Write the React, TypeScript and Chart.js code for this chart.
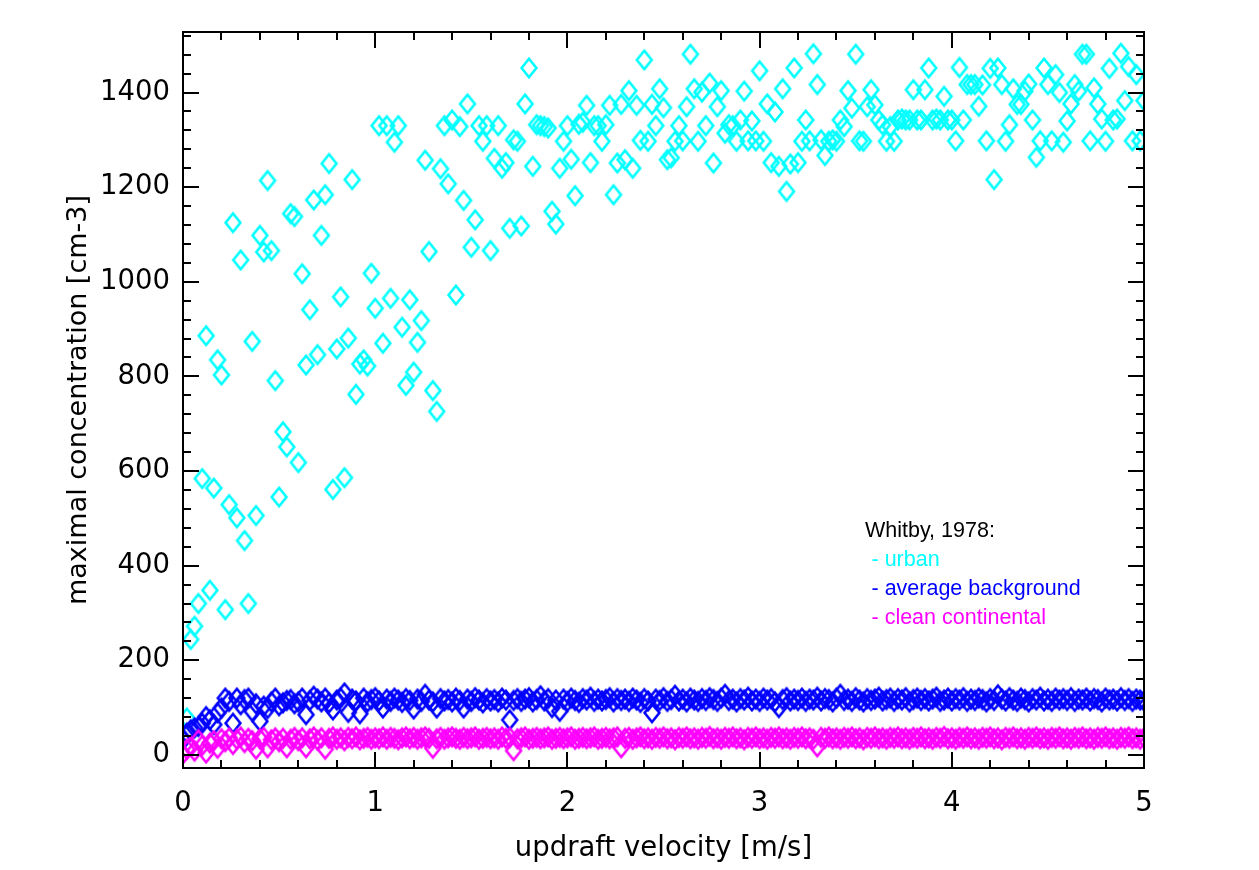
import React, { useEffect, useRef } from 'react';
import { Chart, registerables } from 'chart.js';

Chart.register(...registerables);

// ---- axis ranges & ticks ----
const X_MIN = 0;
const X_MAX = 5;
const Y_MIN = -27.7;
const Y_MAX = 1528;
const X_MAJOR_TICKS = [0, 1, 2, 3, 4, 5];
const Y_MAJOR_TICKS = [0, 200, 400, 600, 800, 1000, 1200, 1400];
const X_MINOR_STEP = 0.2;
const Y_MINOR_STEP = 40;

// ---- sampling grid of the updraft velocity (m/s) ----
const X_STEP = 0.02;
const URBAN_X0 = 0.02;
const BACKGROUND_X0 = 0.0;
const CONTINENTAL_X0 = 0.0;

// ---- series values (maximal concentration, cm-3) ----
const urbanValues = [
  78, 244, 272, 320, 584, 886, 348, 564, 835, 803,
  307, 529, 1125, 501, 1046, 453, 320, 874, 506, 1098,
  1063, 1214, 1066, 791, 545, 683, 651, 1144, 1138, 618,
  1017, 824, 941, 1173, 846, 1098, 1184, 1250, 561, 858,
  968, 586, 881, 1216, 762, 826, 835, 822, 1018, 944,
  1330, 870, 1330, 965, 1295, 1330, 904, 781, 962, 809,
  872, 918, 1257, 1064, 770, 726, 1239, 1330, 1207, 1342,
  972, 1328, 1172, 1376, 1073, 1131, 1330, 1297, 1330, 1066,
  1261, 1330, 1240, 1252, 1113, 1300, 1297, 1118, 1376, 1452,
  1244, 1332, 1330, 1328, 1325, 1149, 1122, 1240, 1297, 1330,
  1259, 1182, 1333, 1337, 1373, 1252, 1330, 1330, 1297, 1332,
  1373, 1184, 1251, 1375, 1258, 1404, 1240, 1373, 1299, 1469,
  1297, 1375, 1330, 1408, 1368, 1258, 1262, 1297, 1330, 1298,
  1370, 1481, 1408, 1297, 1401, 1330, 1420, 1251, 1370, 1404,
  1314, 1332, 1330, 1297, 1342, 1403, 1298, 1340, 1298, 1446,
  1297, 1376, 1252, 1359, 1244, 1408, 1191, 1249, 1452, 1252,
  1297, 1342, 1298, 1482, 1417, 1300, 1267, 1297, 1300, 1297,
  1342, 1328, 1404, 1367, 1481, 1298, 1297, 1370, 1406, 1374,
  1342, 1332, 1297, 1328, 1297, 1342, 1344, 1342, 1342, 1406,
  1342, 1342, 1406, 1452, 1342, 1344, 1342, 1392, 1342, 1342,
  1298, 1453, 1342, 1417, 1417, 1417, 1371, 1416, 1298, 1451,
  1216, 1452, 1417, 1297, 1332, 1408, 1375, 1375, 1403, 1418,
  1342, 1263, 1298, 1452, 1417, 1298, 1438, 1400, 1295, 1340,
  1376, 1417, 1403, 1481, 1481, 1298, 1410, 1376, 1344, 1297,
  1451, 1342, 1344, 1483, 1383, 1455, 1298, 1438, 1298, 1383,
];

const backgroundValues = [
  32, 46, 53, 57, 60, 67, 81, 74, 64, 89,
  99, 120, 113, 67, 120, 106, 117, 120, 92, 108,
  71, 103, 98, 112, 120, 104, 110, 115, 117, 108,
  112, 120, 85, 115, 124, 118, 112, 120, 110, 95,
  116, 120, 131, 90, 118, 114, 87, 120, 112, 117,
  121, 114, 99, 118, 113, 120, 116, 111, 119, 115,
  97, 118, 113, 128, 116, 112, 99, 119, 114, 117,
  112, 120, 115, 99, 118, 113, 121, 116, 110, 119,
  114, 117, 112, 120, 116, 74, 115, 119, 113, 118,
  121, 112, 117, 125, 114, 119, 100, 116, 92, 118,
  113, 120, 115, 111, 119, 116, 122, 113, 118, 114,
  117, 121, 112, 119, 115, 118, 113, 120, 116, 111,
  119, 114, 89, 118, 115, 121, 113, 117, 126, 114,
  118, 112, 120, 116, 113, 119, 115, 121, 117, 113,
  120, 128, 115, 118, 112, 119, 116, 122, 114, 118,
  113, 120, 116, 119, 112, 100, 117, 121, 114, 118,
  115, 120, 113, 118, 116, 122, 114, 119, 117, 112,
  120, 128, 115, 118, 113, 121, 116, 112, 119, 115,
  118, 122, 114, 117, 120, 113, 119, 116, 121, 112,
  117, 120, 115, 119, 114, 118, 122, 113, 116, 120,
  114, 119, 116, 121, 113, 118, 115, 120, 117, 112,
  119, 115, 127, 118, 114, 121, 116, 113, 120, 117,
  112, 119, 116, 122, 114, 118, 113, 120, 116, 119,
  115, 121, 113, 118, 116, 120, 114, 119, 117, 112,
  120, 116, 118, 114, 121, 115, 119, 113, 118, 116,
  114,
];

const continentalValues = [
  2, 12, 18, 8, 32, 20, 4, 25, 30, 14,
  34, 28, 36, 22, 33, 38, 26, 35, 30, 12,
  34, 37, 15, 32, 36, 28, 35, 15, 33, 37,
  30, 36, 15, 34, 38, 31, 36, 12, 35, 38,
  33, 36, 30, 37, 34, 38, 32, 35, 37, 33,
  36, 34, 38, 33, 37, 35, 32, 36, 38, 34,
  37, 33, 36, 38, 35, 14, 34, 37, 33, 36,
  38, 35, 33, 37, 34, 36, 38, 33, 35, 37,
  34, 36, 33, 38, 35, 37, 9, 34, 36, 38,
  33, 35, 37, 34, 36, 38, 33, 35, 37, 34,
  36, 38, 33, 35, 37, 34, 36, 38, 33, 35,
  37, 34, 36, 38, 15, 35, 37, 33, 36, 38,
  34, 36, 33, 37, 35, 38, 34, 36, 32, 37,
  35, 38, 34, 36, 33, 37, 35, 39, 34, 36,
  33, 37, 35, 38, 34, 36, 32, 37, 35, 38,
  34, 36, 33, 37, 35, 38, 34, 36, 33, 37,
  35, 38, 34, 36, 33, 17, 37, 35, 38, 34,
  36, 33, 37, 35, 38, 34, 36, 32, 37, 35,
  38, 34, 36, 33, 37, 35, 38, 34, 36, 33,
  37, 35, 38, 34, 36, 33, 37, 35, 39, 34,
  36, 33, 37, 35, 38, 34, 36, 33, 37, 35,
  38, 34, 36, 32, 37, 35, 38, 34, 36, 33,
  37, 35, 38, 34, 36, 33, 37, 35, 38, 34,
  36, 33, 37, 35, 38, 34, 36, 33, 37, 35,
  38, 34, 36, 33, 37, 35, 38, 34, 36, 33,
  36,
];

// ---- labels ----
const X_TITLE = 'updraft velocity [m/s]';
const Y_TITLE = 'maximal concentration [cm-3]';
const LEGEND_TITLE = 'Whitby, 1978:';
const LEGEND_ITEMS = ['- urban', '- average background', '- clean continental'];
const COLORS = ['#00FFFF', '#0000FF', '#FF00FF'];

const toPoints = (values: number[], x0: number) =>
  values.map((v, i) => ({ x: Math.round((x0 + i * X_STEP) * 1000) / 1000, y: v }));

function makeDiamond(color: string): HTMLCanvasElement {
  const c = document.createElement('canvas');
  c.width = 20;
  c.height = 24;
  const g = c.getContext('2d')!;
  g.strokeStyle = color;
  g.lineWidth = 2.6;
  g.lineJoin = 'miter';
  g.beginPath();
  g.moveTo(10, 2.8);
  g.lineTo(17.4, 12);
  g.lineTo(10, 21.2);
  g.lineTo(2.6, 12);
  g.closePath();
  g.stroke();
  return c;
}

const decorPlugin = {
  id: 'decor',
  afterDatasetsDraw(chart: any) {
    const { ctx, chartArea, scales } = chart;
    const { left, right, top, bottom } = chartArea;
    const xs = scales.x;
    const ys = scales.y;
    ctx.save();
    ctx.strokeStyle = '#000';
    ctx.lineWidth = 2;
    const MAJ = 16;
    const MIN = 8;
    const line = (x1: number, y1: number, x2: number, y2: number) => {
      ctx.beginPath();
      ctx.moveTo(x1, y1);
      ctx.lineTo(x2, y2);
      ctx.stroke();
    };
    for (let v = X_MIN; v <= X_MAX + 1e-9; v += X_MINOR_STEP) {
      const vv = Math.round(v * 1000) / 1000;
      const isMajor = X_MAJOR_TICKS.includes(vv);
      const L = isMajor ? MAJ : MIN;
      const px = Math.round(xs.getPixelForValue(vv));
      line(px, bottom, px, bottom - L);
      line(px, top, px, top + L);
    }
    for (let v = 0; v <= Y_MAX; v += Y_MINOR_STEP) {
      const isMajor = Y_MAJOR_TICKS.includes(v);
      const L = isMajor ? MAJ : MIN;
      const py = Math.round(ys.getPixelForValue(v));
      line(left, py, left + L, py);
      line(right, py, right - L, py);
    }
    ctx.strokeRect(left, top, right - left, bottom - top);

    ctx.font = '21.5px "Liberation Sans", Arial, sans-serif';
    ctx.textAlign = 'left';
    ctx.textBaseline = 'alphabetic';
    ctx.fillStyle = '#000';
    ctx.fillText(LEGEND_TITLE, 865, 537);
    const baselines = [566, 595, 624];
    LEGEND_ITEMS.forEach((t, i) => {
      ctx.fillStyle = COLORS[i];
      ctx.fillText(t, 871.5, baselines[i]);
    });
    ctx.restore();
  },
};

export default function App() {
  const ref = useRef<HTMLCanvasElement | null>(null);

  useEffect(() => {
    if (!ref.current) return;
    const font = { family: '"DejaVu Sans", sans-serif', size: 27.5 };
    const chart = new Chart(ref.current, {
      type: 'scatter',
      data: {
        datasets: [
          {
            label: 'clean continental',
            data: toPoints(continentalValues, CONTINENTAL_X0),
            pointStyle: makeDiamond(COLORS[2]) as any,
            borderColor: COLORS[2],
            backgroundColor: 'transparent',
          },
          {
            label: 'average background',
            data: toPoints(backgroundValues, BACKGROUND_X0),
            pointStyle: makeDiamond(COLORS[1]) as any,
            borderColor: COLORS[1],
            backgroundColor: 'transparent',
          },
          {
            label: 'urban',
            data: toPoints(urbanValues, URBAN_X0),
            pointStyle: makeDiamond(COLORS[0]) as any,
            borderColor: COLORS[0],
            backgroundColor: 'transparent',
          },
        ],
      },
      options: {
        responsive: false,
        animation: false,
        devicePixelRatio: 1,
        layout: { padding: { top: 32, right: 115, left: 0, bottom: 0 } },
        plugins: {
          legend: { display: false },
          tooltip: { enabled: false },
          title: { display: false },
        },
        scales: {
          x: {
            type: 'linear',
            position: 'bottom',
            min: X_MIN,
            max: X_MAX,
            afterFit: (s: any) => {
              s.height = 102;
            },
            ticks: {
              stepSize: 1,
              includeBounds: false,
              color: '#000',
              font,
              padding: 19,
              maxRotation: 0,
              callback: (v: any) => String(v),
            },
            grid: { display: false, drawTicks: false },
            border: { display: false },
            title: {
              display: true,
              text: X_TITLE,
              color: '#000',
              font,
              padding: { top: 0, bottom: 5 },
            },
          },
          y: {
            type: 'linear',
            min: Y_MIN,
            max: Y_MAX,
            afterFit: (s: any) => {
              s.width = 183;
            },
            ticks: {
              stepSize: 200,
              includeBounds: false,
              color: '#000',
              font,
              padding: 13,
              callback: (v: any) => String(v),
            },
            grid: { display: false, drawTicks: false },
            border: { display: false },
            title: {
              display: true,
              text: Y_TITLE,
              color: '#000',
              font: { family: '"DejaVu Sans", sans-serif', size: 27 },
              padding: { top: 63, bottom: 0 },
            },
          },
        },
      },
      plugins: [decorPlugin],
    });
    return () => chart.destroy();
  }, []);

  return (
    <div style={{ position: 'fixed', left: 0, top: 0, width: 1259, height: 870, background: '#fff' }}>
      <canvas ref={ref} width={1259} height={870} style={{ display: 'block', width: 1259, height: 870 }} />
    </div>
  );
}
